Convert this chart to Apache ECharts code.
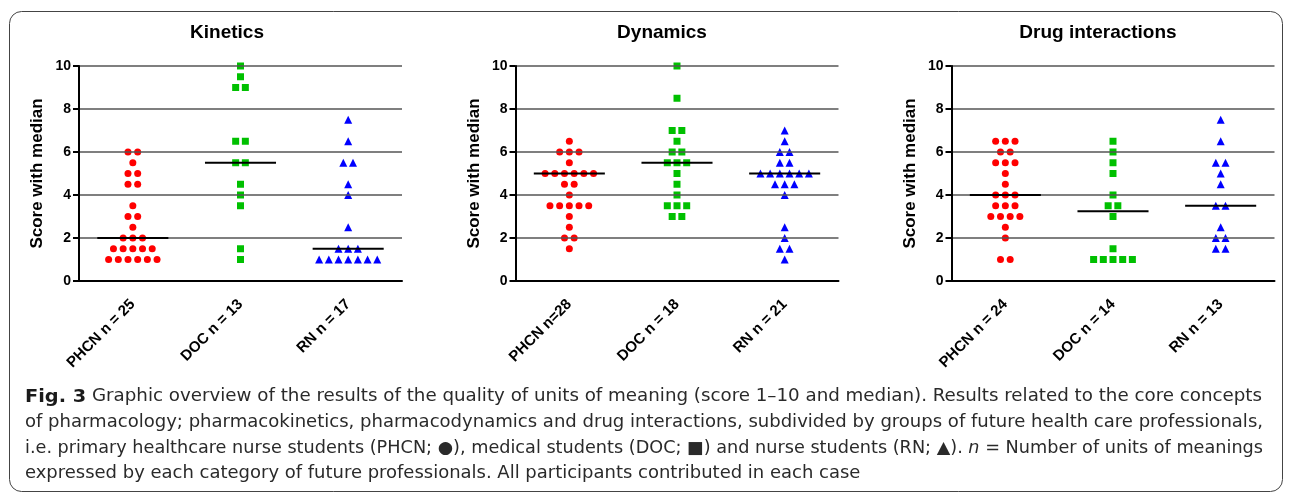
<!DOCTYPE html>
<html>
<head>
<meta charset="utf-8">
<script src="https://cdn.jsdelivr.net/npm/echarts@6/dist/echarts.min.js"></script>
<style>
html,body{margin:0;padding:0;background:#fff;}
#chart{width:1292px;height:496px;}
</style>
</head>
<body>
<div id="chart"></div>
<script>
// ---------- data ----------
const groups = ['PHCN', 'DOC', 'RN'];
const panelTitles = ['Kinetics', 'Dynamics', 'Drug interactions'];
const kinLabels = ['PHCN n = 25', 'DOC n = 13', 'RN n = 17'];
const dynLabels = ['PHCN n=28', 'DOC n = 18', 'RN n = 21'];
const drugLabels = ['PHCN n = 24', 'DOC n = 14', 'RN n = 13'];
const yTicks = [0, 2, 4, 6, 8, 10];

const kinPHCN = [6, 6, 5.5, 5, 5, 4.5, 4.5, 3.5, 3, 3, 2.5, 2, 2, 2, 1.5, 1.5, 1.5, 1.5, 1.5, 1, 1, 1, 1, 1, 1];
const kinDOC = [10, 9.5, 9, 9, 6.5, 6.5, 5.5, 5.5, 4.5, 4, 3.5, 1.5, 1];
const kinRN = [7.5, 6.5, 5.5, 5.5, 4.5, 4, 2.5, 1.5, 1.5, 1.5, 1, 1, 1, 1, 1, 1, 1];

const dynPHCN = [6.5, 6, 6, 6, 5.5, 5, 5, 5, 5, 5, 5, 4.5, 4.5, 4, 3.5, 3.5, 3.5, 3.5, 3.5, 3, 2.5, 2, 2, 1.5];
const dynDOC = [10, 8.5, 7, 7, 6.5, 6, 6, 5.5, 5.5, 5.5, 5, 4.5, 4, 3.5, 3.5, 3.5, 3, 3];
const dynRN = [7, 6.5, 6, 6, 5.5, 5.5, 5, 5, 5, 5, 5, 5, 4.5, 4.5, 4.5, 4, 2.5, 2, 1.5, 1.5, 1];

const drugPHCN = [6.5, 6.5, 6.5, 6, 6, 5.5, 5.5, 5.5, 5, 4.5, 4, 4, 4, 3.5, 3.5, 3.5, 3, 3, 3, 3, 2.5, 2, 1, 1];
const drugDOC = [6.5, 6, 5.5, 5, 4, 3.5, 3.5, 3, 1.5, 1, 1, 1, 1, 1];
const drugRN = [7.5, 6.5, 5.5, 5.5, 5, 4.5, 3.5, 3.5, 2.5, 2, 2, 1.5, 1.5];

const kinMedians = [2, 5.5, 1.5];
const dynMedians = [5, 5.5, 5];
const drugMedians = [4, 3.25, 3.5];

const captionLines = [
  '{b|Fig. 3} Graphic overview of the results of the quality of units of meaning (score 1\u201310 and median). Results related to the core concepts',
  'of pharmacology; pharmacokinetics, pharmacodynamics and drug interactions, subdivided by groups of future health care professionals,',
  'i.e. primary healthcare nurse students (PHCN; \u25CF), medical students (DOC; \u25A0) and nurse students (RN; \u25B2). {i|n} = Number of units of meanings',
  'expressed by each category of future professionals. All participants contributed in each case'
];

// ---------- styling / layout ----------
const FONT = 'Liberation Sans';
const CAP_FAMILY = '"DejaVu Sans Condensed", "DejaVu Sans", sans-serif';
const panels = [
  {title: panelTitles[0], labels: kinLabels, sets: [kinPHCN, kinDOC, kinRN], med: kinMedians, left: 79, titleX: 227},
  {title: panelTitles[1], labels: dynLabels, sets: [dynPHCN, dynDOC, dynRN], med: dynMedians, left: 515.5, titleX: 662},
  {title: panelTitles[2], labels: drugLabels, sets: [drugPHCN, drugDOC, drugRN], med: drugMedians, left: 951.5, titleX: 1098}
];
const symbols = ['circle', 'rect', 'triangle'];
const colors = ['#ff0000', '#00c000', '#0000ff'];
const symSizes = [7, 7, 8];
const STEP = 0.09;   // horizontal spread of equal scores, in category units

function swarm(values, g) {
  const counts = {};
  values.forEach(v => { counts[v] = (counts[v] || 0) + 1; });
  const seen = {};
  return values.map(v => {
    const i = seen[v] || 0; seen[v] = i + 1;
    const off = (i - (counts[v] - 1) / 2) * STEP;
    return [g + off, v];
  });
}

const grids = [], xAxes = [], yAxes = [], series = [];
panels.forEach((p, k) => {
  grids.push({left: p.left, top: 66, width: 323, height: 215});
  xAxes.push({
    type: 'category', gridIndex: k, data: p.labels, boundaryGap: true,
    axisLine: {lineStyle: {color: '#000', width: 2}},
    axisTick: {alignWithLabel: true, length: 6, lineStyle: {color: '#000', width: 2}},
    axisLabel: {rotate: 45, margin: 21, color: '#000', fontFamily: FONT, fontWeight: 'bold', fontSize: 15},
    splitLine: {show: false}, z: 3
  });
  xAxes.push({type: 'value', gridIndex: k, min: -0.5, max: 2.5, show: false});
  yAxes.push({
    type: 'value', gridIndex: k, min: yTicks[0], max: yTicks[yTicks.length - 1], interval: yTicks[1] - yTicks[0],
    name: 'Score with median', nameLocation: 'middle', nameGap: 33,
    nameTextStyle: {color: '#000', fontFamily: FONT, fontWeight: 'bold', fontSize: 17},
    axisLine: {show: true, onZero: false, lineStyle: {color: '#000', width: 2}},
    axisTick: {show: true, length: 6, lineStyle: {color: '#000', width: 2}},
    axisLabel: {margin: 8, color: '#000', fontFamily: FONT, fontWeight: 'bold', fontSize: 14},
    splitLine: {show: true, lineStyle: {color: '#555', width: 1.5}}, z: 3
  });
  p.sets.forEach((vals, g) => {
    series.push({
      type: 'scatter', name: groups[g], xAxisIndex: 2 * k + 1, yAxisIndex: k,
      data: swarm(vals, g), symbol: symbols[g], symbolSize: symSizes[g],
      itemStyle: {color: colors[g], opacity: 1}, z: 2, silent: true
    });
  });
  series.push({
    type: 'custom', xAxisIndex: 2 * k + 1, yAxisIndex: k, z: 5, silent: true,
    data: p.med.map((m, g) => [g, m]),
    renderItem: function (params, api) {
      const x = api.value(0), y = api.value(1);
      const a = api.coord([x - 0.33, y]), b = api.coord([x + 0.33, y]);
      return {type: 'line', shape: {x1: a[0], y1: a[1], x2: b[0], y2: b[1]}, style: {stroke: '#000', lineWidth: 2}};
    }
  });
});

// caption layout: stretch each line to the measured reference width
const ctx = document.createElement('canvas').getContext('2d');
function measure(str, font) { ctx.font = font; return ctx.measureText(str).width; }
const capSize = 17;
const normalFont = capSize + 'px ' + CAP_FAMILY;
const boldFont = 'bold ' + (capSize + 1) + 'px ' + CAP_FAMILY;
const italicFont = 'italic ' + capSize + 'px ' + CAP_FAMILY;
const targetW = [1237, 1238, 1238, null];
const capY = [397, 423, 449, 474];
const rawW = captionLines.map(s => {
  let w = 0;
  const parts = s.split(/(\{[bi]\|[^}]*\})/);
  parts.forEach(pt => {
    const m = pt.match(/^\{([bi])\|([^}]*)\}$/);
    if (m) w += measure(m[2], m[1] === 'b' ? boldFont : italicFont);
    else w += measure(pt, normalFont);
  });
  return w;
});
const scales = rawW.map((w, i) => targetW[i] ? targetW[i] / w : null);
const avgScale = (scales[0] + scales[1] + scales[2]) / 3;

const graphics = [
  {type: 'rect', shape: {x: 9.5, y: 11.5, width: 1273, height: 480, r: 12},
   style: {fill: 'none', stroke: '#444', lineWidth: 1}, silent: true}
];
panels.forEach(p => {
  graphics.push({type: 'text', x: p.titleX, y: 33, silent: true,
    style: {text: p.title, fill: '#000', fontFamily: FONT, fontWeight: 'bold', fontSize: 19, align: 'center', verticalAlign: 'middle'}});
});
captionLines.forEach((s, i) => {
  graphics.push({type: 'text', x: 25, y: capY[i], scaleX: scales[i] || avgScale, silent: true,
    style: {text: s, fill: '#2a2a2a', fontFamily: CAP_FAMILY, fontSize: capSize, fontWeight: 'normal',
      align: 'left', verticalAlign: 'middle',
      rich: {
        b: {fontFamily: CAP_FAMILY, fontSize: capSize + 1, fontWeight: 'bold', fill: '#1a1a1a'},
        i: {fontFamily: CAP_FAMILY, fontSize: capSize, fontStyle: 'italic', fill: '#2a2a2a'}
      }}});
});

const chart = echarts.init(document.getElementById('chart'), null, {renderer: 'canvas'});
chart.setOption({
  animation: false,
  backgroundColor: '#fff',
  textStyle: {fontFamily: FONT},
  grid: grids, xAxis: xAxes, yAxis: yAxes, series: series,
  graphic: graphics
});
</script>
</body>
</html>
